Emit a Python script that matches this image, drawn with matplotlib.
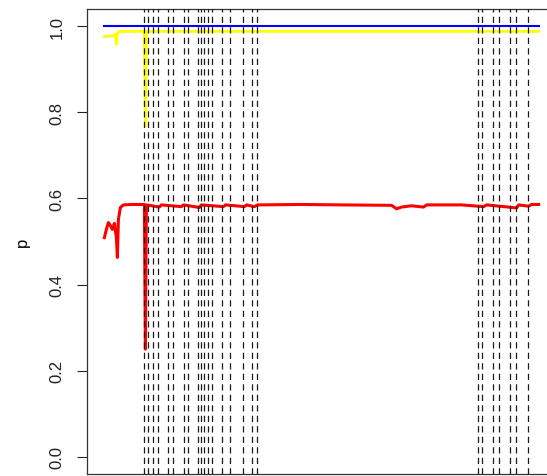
import matplotlib
matplotlib.use("Agg")
import matplotlib.pyplot as plt

plt.rcParams['font.family'] = ['Liberation Sans', 'DejaVu Sans']

# change points (iteration index)
change_pts = [41, 45, 50, 55, 65, 70, 81, 85, 95, 98, 101, 105, 109, 119, 127,
              140, 149, 154, 374, 378, 389, 395, 406, 412, 424]

# upper bound series
blue_t = [1, 435]
blue_p = [1.0, 1.0]

# yellow series
yellow_t = [1, 10, 12, 13, 14, 16, 41, 42, 43, 435]
yellow_p = [0.976, 0.978, 0.982, 0.958, 0.984, 0.988, 0.988, 0.768, 0.988, 0.988]

# red series
red_t = [1, 3, 5, 7, 9, 11, 13, 14, 15, 17, 20, 28, 41, 42, 43, 56, 58, 78, 80,
         96, 98, 120, 122, 141, 143, 151, 154, 198, 238, 288, 293, 298, 308,
         320, 323, 358, 380, 383, 413, 415, 425, 428, 435]
red_p = [0.509, 0.528, 0.544, 0.537, 0.528, 0.542, 0.509, 0.463, 0.551, 0.579,
         0.585, 0.586, 0.586, 0.250, 0.585, 0.580, 0.585, 0.581, 0.585,
         0.579, 0.585, 0.581, 0.585, 0.581, 0.585, 0.581, 0.585, 0.586,
         0.585, 0.584, 0.576, 0.580, 0.583, 0.580, 0.585, 0.585, 0.581,
         0.585, 0.578, 0.585, 0.582, 0.586, 0.586]

fig = plt.figure(figsize=(5.47, 4.77), dpi=100)
ax = fig.add_axes([87 / 547, 2 / 477, 469 / 547, 465 / 477])

ax.plot(blue_t, blue_p, color='#0000ff', lw=1.5, zorder=2)
ax.plot(yellow_t, yellow_p, color='#ffff00', lw=2, zorder=2)
ax.plot(red_t, red_p, color='#ff0000', lw=2.2, zorder=2)
for v in change_pts:
    ax.axvline(v, color='#1a1a1a', lw=0.9, dashes=(5, 3.4), zorder=3)

ax.set_xlim(1 - 0.04 * 434, 435 + 0.04 * 434)
ax.set_ylim(-0.04, 1.04)
ax.set_yticks([0.0, 0.2, 0.4, 0.6, 0.8, 1.0])
ax.set_yticklabels(['0.0', '0.2', '0.4', '0.6', '0.8', '1.0'], rotation=90, va='center')
ax.tick_params(axis='y', length=7, width=0.8, pad=9, labelsize=12, colors='#222222')
ax.set_xticks([])
ax.set_ylabel('p', fontsize=12, labelpad=14)
ax.spines['right'].set_visible(False)
for s in ['left', 'top', 'bottom']:
    ax.spines[s].set_linewidth(0.9)
    ax.spines[s].set_color('#333333')

fig.savefig('out.png', dpi=100)
